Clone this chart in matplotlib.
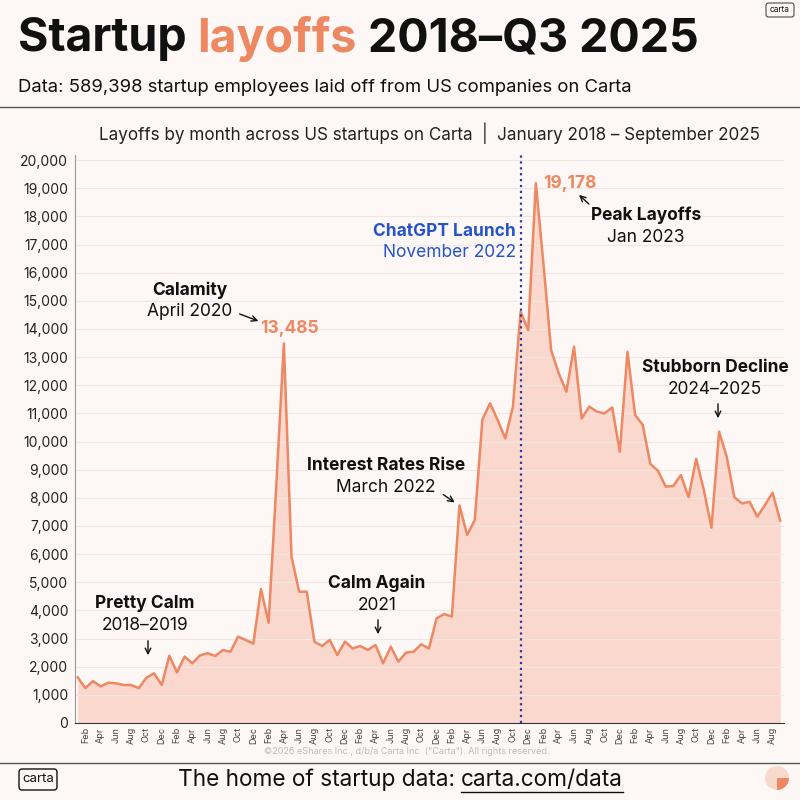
import matplotlib
matplotlib.use('Agg')
import matplotlib.pyplot as plt
from matplotlib.patches import FancyBboxPatch, Wedge, Circle
from matplotlib.ticker import FuncFormatter

plt.rcParams['font.family'] = ['Inter', 'DejaVu Sans']

# monthly layoffs, Jan 2018 .. Sep 2025
y2018 = [1620, 1240, 1490, 1300, 1430, 1410, 1350, 1350, 1240, 1610, 1765, 1350]
y2019 = [2390, 1800, 2360, 2120, 2400, 2480, 2380, 2590, 2530, 3070, 2950, 2820]
y2020 = [4760, 3560, 8400, 13485, 5910, 4665, 4665, 2890, 2735, 2950, 2415, 2890]
y2021 = [2650, 2735, 2595, 2770, 2120, 2710, 2180, 2500, 2535, 2795, 2650, 3720]
y2022 = [3870, 3780, 7730, 6680, 7210, 10780, 11360, 10760, 10110, 11240, 14610, 13960]
y2023 = [19178, 16300, 13250, 12420, 11770, 13370, 10820, 11240, 11060, 11000, 11210, 9640]
y2024 = [13190, 10940, 10590, 9200, 8960, 8400, 8420, 8810, 8020, 9380, 8280, 6940]
y2025 = [10350, 9460, 8020, 7800, 7860, 7330, 7740, 8180, 7190]
layoffs = y2018 + y2019 + y2020 + y2021 + y2022 + y2023 + y2024 + y2025
month_names = ['Jan', 'Feb', 'Mar', 'Apr', 'May', 'Jun', 'Jul', 'Aug', 'Sep', 'Oct', 'Nov', 'Dec']
x = list(range(len(layoffs)))

BG = '#FDF8F6'
ORANGE = '#EE8862'
FILL = '#FAD8CD'
BLUE = '#2553C9'
FS = 12.5

fig = plt.figure(figsize=(8, 8), dpi=100, facecolor=BG)
ax = fig.add_axes([0.094, 0.09625, 0.886, 0.71])
ax.set_facecolor(BG)

ax.fill_between(x, layoffs, 0, color=FILL, lw=0, zorder=1)
ax.plot(x, layoffs, color=ORANGE, lw=1.8, zorder=3)

ax.set_xlim(-0.33, 92.5)
ax.set_ylim(0, 20180)
ax.set_yticks(range(0, 20001, 1000))
ax.yaxis.set_major_formatter(FuncFormatter(lambda v, p: f'{int(v):,}'))
ticks = [i for i in x if i % 2 == 1]
ax.set_xticks(ticks)
ax.set_xticklabels([month_names[i % 12] for i in ticks], rotation=90, fontsize=6.5, color='#444444')
ax.tick_params(axis='y', labelsize=10, colors='#222222', length=0, pad=5)
ax.tick_params(axis='x', length=0, pad=3)
ax.grid(axis='y', color='#F1E6E2', lw=0.8, zorder=0)
for s in ['top', 'right']:
    ax.spines[s].set_visible(False)
ax.spines['left'].set_color('#999999')
ax.spines['bottom'].set_color('#333333')

# ChatGPT launch line (Nov 2022)
ax.axvline(58, color='#2B3A9C', ls=':', lw=1.6, zorder=4)

def px(xp, yp):
    return xp / 800, 1 - yp / 800

def note(xp, yp, bold, reg, color='#111111'):
    fig.text(*px(xp, yp), bold, ha='center', va='center', fontsize=FS, fontweight='bold', color=color)
    fig.text(*px(xp, yp + 22), reg, ha='center', va='center', fontsize=FS, color=color)

arrow = dict(arrowstyle='->', color='#111111', lw=1.0)

note(145, 603, 'Pretty Calm', '2018–2019')
ax.annotate('', xy=px(148, 658), xytext=px(148, 638), xycoords='figure fraction', arrowprops=arrow)

note(190, 290, 'Calamity', 'April 2020')
ax.annotate('', xy=px(261, 322), xytext=px(237, 313), xycoords='figure fraction', arrowprops=arrow)
peak20 = max(y2020)
ax.annotate(f'{peak20:,}', xy=(y2020.index(peak20) + 24, peak20), xytext=(4, 11), textcoords='offset points',
            ha='center', va='center', fontsize=FS, fontweight='bold', color=ORANGE)

note(377, 583, 'Calm Again', '2021')
ax.annotate('', xy=px(378, 637), xytext=px(378, 617), xycoords='figure fraction', arrowprops=arrow)

note(386, 465, 'Interest Rates Rise', 'March 2022')
ax.annotate('', xy=px(457, 504), xytext=px(441, 493), xycoords='figure fraction', arrowprops=arrow)

fig.text(*px(516, 231), 'ChatGPT Launch', ha='right', va='center', fontsize=FS, fontweight='bold', color=BLUE)
fig.text(*px(516, 253), 'November 2022', ha='right', va='center', fontsize=FS, color=BLUE)

peak23 = max(layoffs)
ax.annotate(f'{peak23:,}', xy=(layoffs.index(peak23), peak23), xytext=(5, 0), textcoords='offset points',
            ha='left', va='center', fontsize=FS, fontweight='bold', color=ORANGE)
ax.annotate('', xy=px(577, 193), xytext=px(591, 206), xycoords='figure fraction', arrowprops=arrow)
note(646, 215, 'Peak Layoffs', 'Jan 2023')

note(715, 367, 'Stubborn Decline', '2024–2025')
ax.annotate('', xy=px(718, 421), xytext=px(718, 401), xycoords='figure fraction', arrowprops=arrow)

# header
fig.canvas.draw()
r = fig.canvas.get_renderer()
xp = 18
for part, col in [('Startup ', '#111111'), ('layoffs', ORANGE), (' 2018–Q3 2025', '#111111')]:
    t = fig.text(*px(xp, 39), part, ha='left', va='center', fontsize=33.5, fontweight='bold', color=col)
    xp += t.get_window_extent(r).width
fig.text(*px(18, 87), 'Data: 589,398 startup employees laid off from US companies on Carta',
         ha='left', va='center', fontsize=13.3, color='#111111')
fig.add_artist(plt.Line2D([0, 1], [1 - 107 / 800] * 2, color='#555555', lw=1))
fig.text(*px(429, 133), 'Layoffs by month across US startups on Carta  |  January 2018 – September 2025',
         ha='center', va='center', fontsize=12.3, color='#222222')
fig.text(*px(407, 752), '©2026 eShares Inc., d/b/a Carta Inc. ("Carta"). All rights reserved.',
         ha='center', va='center', fontsize=6.5, color='#BBBBBB')

# footer
fig.add_artist(plt.Line2D([0, 1], [1 - 763 / 800] * 2, color='#555555', lw=1))
a = fig.text(*px(178, 780), 'The home of startup data: ', ha='left', va='center', fontsize=16.3, color='#111111')
w = a.get_window_extent(r).width
b = fig.text(*px(178 + w, 780), 'carta.com/data', ha='left', va='center', fontsize=16.3, color='#111111')
bb = b.get_window_extent(r)
fig.add_artist(plt.Line2D([bb.x0 / 800, bb.x1 / 800], [1 - 792 / 800] * 2, color='#111111', lw=1))

logo = FancyBboxPatch(px(19, 790), 38 / 800, 21 / 800, boxstyle='round,pad=0,rounding_size=0.004',
                      transform=fig.transFigure, fc='none', ec='#111111', lw=1)
fig.add_artist(logo)
fig.text(*px(38, 779), 'carta', ha='center', va='center', fontsize=9.5, color='#111111')
top = FancyBboxPatch(px(766, 17), 28 / 800, 14 / 800, boxstyle='round,pad=0,rounding_size=0.003',
                     transform=fig.transFigure, fc='none', ec='#333333', lw=0.7)
fig.add_artist(top)
fig.text(*px(780, 10), 'carta', ha='center', va='center', fontsize=6, color='#111111')
fig.add_artist(Circle(px(777, 778), 12 / 800, transform=fig.transFigure, fc='#F9D9CC', ec='none'))
fig.add_artist(Wedge(px(777, 778), 12 / 800, 270, 360, transform=fig.transFigure, fc='#EE8862', ec='none'))

fig.savefig('out.png', dpi=100, facecolor=BG)
